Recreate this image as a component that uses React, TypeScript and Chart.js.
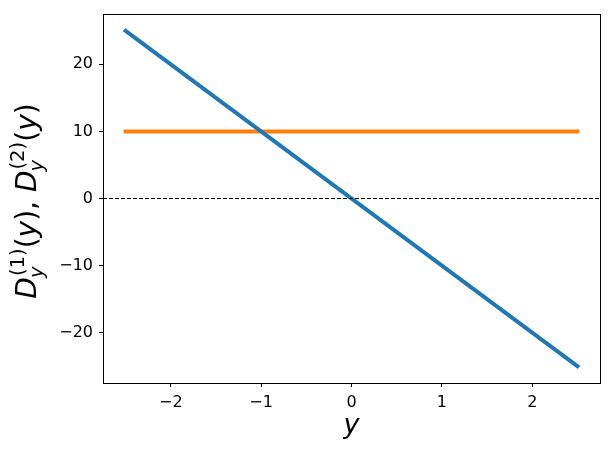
import React, { useEffect, useRef } from "react";
import { Chart, registerables } from "chart.js";

Chart.register(...registerables);

// ---- data ----
const xLimits = [-2.75, 2.75];
const yLimits = [-27.5, 27.5];
const xTicks = [-2, -1, 0, 1, 2];
const yTicks = [-20, -10, 0, 10, 20];
const lineX = [-2.5, 2.5];
const blueY = [25, -25];
const orangeY = [10, 10];
const zeroX = [-2.75, 2.75];
const zeroY = [0, 0];
const xLabel = "y";

const BLUE = "#1f77b4";
const ORANGE = "#ff7f0e";
const FONT = "'DejaVu Sans', sans-serif";

const fmt = (v: number) => (v < 0 ? "\u2212" + Math.abs(v) : String(v));

// label segments for D_y^(1)(y), D_y^(2)(y)
type Seg = { t?: string; it?: boolean; sub?: string; sup?: string };
const yLabelSegs: Seg[] = [
  { t: "D", it: true },
  { sub: "y", sup: "(1)" },
  { t: "(" },
  { t: "y", it: true },
  { t: ")" },
  { t: ", " },
  { t: "D", it: true },
  { sub: "y", sup: "(2)" },
  { t: "(" },
  { t: "y", it: true },
  { t: ")" },
];

const framePlugin = {
  id: "frameAndLabels",
  afterDraw(chart: any) {
    const { ctx, chartArea } = chart;
    ctx.save();
    ctx.strokeStyle = "#000";
    ctx.lineWidth = 1;
    ctx.strokeRect(
      Math.round(chartArea.left) + 0.5,
      Math.round(chartArea.top) + 0.5,
      Math.round(chartArea.right) - Math.round(chartArea.left),
      Math.round(chartArea.bottom) - Math.round(chartArea.top)
    );
    // x label
    const fs = 28;
    ctx.fillStyle = "#000";
    ctx.textAlign = "center";
    ctx.textBaseline = "alphabetic";
    ctx.font = `italic ${fs - 1}px ${FONT}`;
    ctx.fillText(xLabel, (chartArea.left + chartArea.right) / 2, 433);

    // y label (mathtext-like)
    const small = fs * 0.7;
    const setFont = (it: boolean, size: number) => {
      ctx.font = `${it ? "italic " : ""}${size}px ${FONT}`;
    };
    let total = 0;
    const widths: number[] = [];
    for (const s of yLabelSegs) {
      let w = 0;
      if (s.t !== undefined) {
        setFont(!!s.it, fs);
        w = ctx.measureText(s.t).width;
      } else {
        setFont(true, small);
        const w1 = ctx.measureText(s.sub || "").width;
        setFont(false, small);
        const w2 = ctx.measureText(s.sup || "").width;
        w = Math.max(w1, w2) + 1;
      }
      widths.push(w);
      total += w;
    }
    const cy = 201;
    const bx = 36;
    ctx.translate(bx, cy);
    ctx.rotate(-Math.PI / 2);
    ctx.textAlign = "left";
    let x = -total / 2;
    yLabelSegs.forEach((s, i) => {
      if (s.t !== undefined) {
        setFont(!!s.it, fs);
        ctx.fillText(s.t, x, 0);
      } else {
        setFont(true, small);
        ctx.fillText(s.sub || "", x - 1, fs * 0.25);
        setFont(false, small);
        ctx.fillText(s.sup || "", x + 1, -fs * 0.42);
      }
      x += widths[i];
    });
    ctx.restore();
  },
};

export default function App() {
  const ref = useRef<HTMLCanvasElement>(null);
  useEffect(() => {
    if (!ref.current) return;
    const chart = new Chart(ref.current, {
      type: "line",
      data: {
        datasets: [
          {
            data: zeroX.map((x, i) => ({ x, y: zeroY[i] })),
            borderColor: "#000",
            borderWidth: 1,
            borderDash: [4, 2],
            pointRadius: 0,
          },
          {
            data: lineX.map((x, i) => ({ x, y: blueY[i] })),
            borderColor: BLUE,
            borderWidth: 4,
            borderCapStyle: "square",
            pointRadius: 0,
          },
          {
            data: lineX.map((x, i) => ({ x, y: orangeY[i] })),
            borderColor: ORANGE,
            borderWidth: 4,
            borderCapStyle: "square",
            pointRadius: 0,
          },
        ],
      },
      options: {
        responsive: false,
        animation: false,
        events: [],
        layout: { padding: { top: 14, right: 12, left: 0, bottom: 0 } },
        plugins: { legend: { display: false }, tooltip: { enabled: false } },
        scales: {
          x: {
            type: "linear",
            min: xLimits[0],
            max: xLimits[1],
            afterBuildTicks: (s: any) => {
              s.ticks = xTicks.map((v) => ({ value: v }));
            },
            afterFit: (s: any) => {
              s.height = 71;
              s.paddingLeft = 0;
              s.paddingRight = 0;
            },
            grid: { drawOnChartArea: false, drawTicks: true, tickLength: 4, color: "#000" },
            border: { display: true, color: "#000", width: 1 },
            ticks: {
              color: "#000",
              font: { family: FONT, size: 16 },
              padding: 6,
              maxRotation: 0,
              autoSkip: false,
              callback: (v: any) => fmt(Number(v)),
            },
          },
          y: {
            type: "linear",
            min: yLimits[0],
            max: yLimits[1],
            afterBuildTicks: (s: any) => {
              s.ticks = yTicks.map((v) => ({ value: v }));
            },
            afterFit: (s: any) => {
              s.width = 103;
              s.paddingTop = 0;
              s.paddingBottom = 0;
            },
            grid: { drawOnChartArea: false, drawTicks: true, tickLength: 4, color: "#000" },
            border: { display: true, color: "#000", width: 1 },
            ticks: {
              color: "#000",
              font: { family: FONT, size: 16 },
              padding: 6,
              autoSkip: false,
              callback: (v: any) => fmt(Number(v)),
            },
          },
        },
      },
      plugins: [framePlugin],
    } as any);
    return () => chart.destroy();
  }, []);
  return (
    <div style={{ position: "absolute", left: 0, top: 0, width: 612, height: 454, background: "#fff" }}>
      <canvas ref={ref} width={612} height={454} />
    </div>
  );
}
